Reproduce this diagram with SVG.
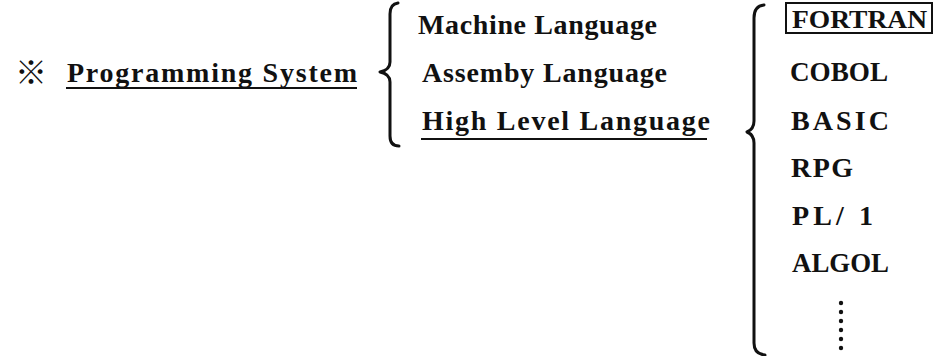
<svg xmlns="http://www.w3.org/2000/svg" width="941" height="356" viewBox="0 0 941 356">
<style>
text{font-family:"Liberation Serif","Times New Roman",serif;font-weight:bold;font-size:28px;fill:#111}
text.mark{font-family:"Noto Sans CJK JP","DejaVu Sans",sans-serif;font-size:32px;font-weight:bold}
.brace{fill:none;stroke:#111;stroke-width:3;stroke-linecap:round;stroke-linejoin:round}
.ul{stroke:#111;stroke-width:2}
</style>
<rect width="941" height="356" fill="#fff"/>
<g id="root">
<text class="mark" x="15" y="84">※</text>
<text x="67" y="82" textLength="290" lengthAdjust="spacing">Programming System</text>
<line class="ul" x1="66" y1="88" x2="357" y2="88"/>
</g>
<g id="connectors">
<path class="brace" d="M398,3 Q390,4 390,14 L390,62 Q390,70 380,72 Q390,74 390,82 L390,136 Q390,146 399,146"/>
<path class="brace" d="M764,5 Q754,6 754,18 L754,121 Q754,129 747,132 Q754,135 754,143 L754,343 Q754,354 765,355"/>
</g>
<g id="machine"><text x="418" y="34" textLength="239" lengthAdjust="spacing">Machine Language</text></g>
<g id="assembly"><text x="422" y="82" textLength="245" lengthAdjust="spacing">Assemby Language</text></g>
<g id="high">
<text x="422" y="130" textLength="288" lengthAdjust="spacing">High Level Language</text>
<line class="ul" x1="421" y1="139" x2="707" y2="139"/>
</g>
<g id="fortran">
<rect x="786" y="3" width="146" height="30" fill="none" stroke="#111" stroke-width="2"/>
<text x="792" y="28" style="font-size:26px" textLength="135" lengthAdjust="spacingAndGlyphs">FORTRAN</text>
</g>
<g id="cobol"><text x="790" y="81" textLength="98" lengthAdjust="spacingAndGlyphs">COBOL</text></g>
<g id="basic"><text x="791" y="130" textLength="98" lengthAdjust="spacing">BASIC</text></g>
<g id="rpg"><text x="791" y="177" textLength="62" lengthAdjust="spacing">RPG</text></g>
<g id="pl1"><text x="792" y="225" textLength="81" lengthAdjust="spacing">PL/ 1</text></g>
<g id="algol"><text x="792" y="272" textLength="97" lengthAdjust="spacingAndGlyphs">ALGOL</text></g>
<g id="ellipsis" fill="#111">
<circle cx="841" cy="303" r="2.2"/>
<circle cx="841" cy="312" r="2.2"/>
<circle cx="841" cy="321" r="2.2"/>
<circle cx="841" cy="330" r="2.2"/>
<circle cx="841" cy="339" r="2.2"/>
<circle cx="841" cy="348" r="2.2"/>
</g>
</svg>
